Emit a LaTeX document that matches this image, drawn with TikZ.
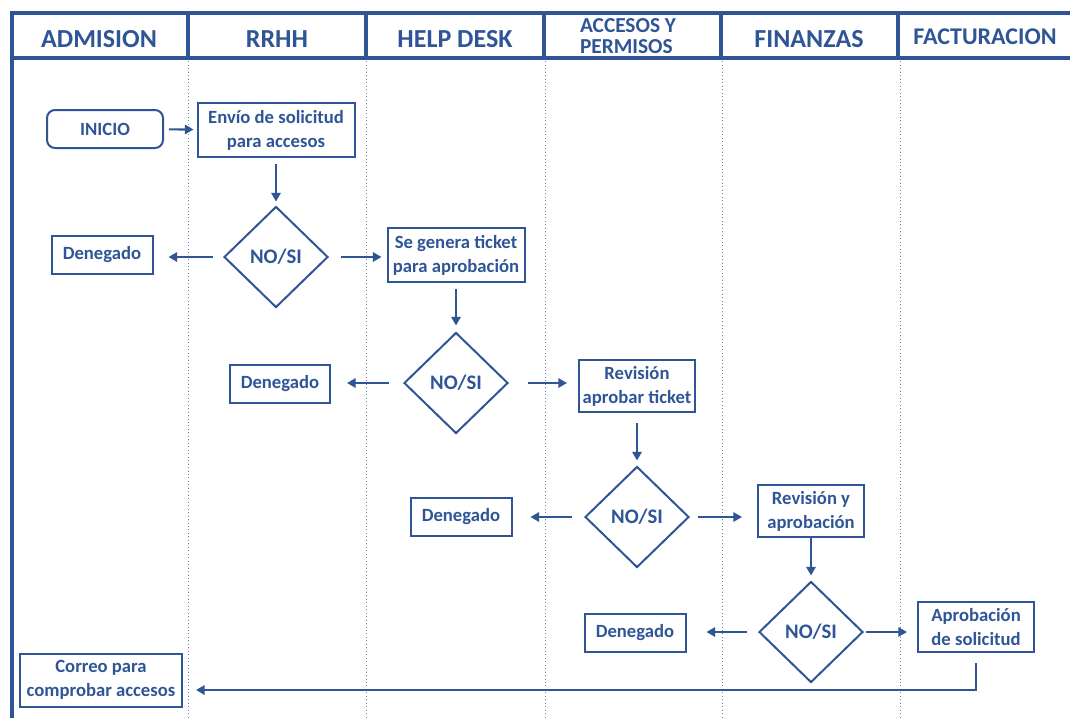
\documentclass[tikz,border=0pt]{standalone}
\usepackage{fontspec}
\setmainfont{Carlito}
\usetikzlibrary{shapes.geometric,arrows.meta}
\definecolor{fb}{HTML}{2F5597}
\begin{document}
\begin{tikzpicture}[x=0.75pt,y=-0.75pt,
  every node/.style={text=fb, font=\bfseries\fontsize{14}{18}\selectfont, align=center},
  box/.style 2 args={draw=fb, line width=1.5pt, minimum width=#1*0.75pt, minimum height=#2*0.75pt, inner sep=0pt},
  dec/.style={diamond, draw=fb, line width=1.5pt, minimum width=104*0.75pt, minimum height=101*0.75pt, inner sep=0pt, font=\bfseries\fontsize{15.5}{18}\selectfont},
  arr/.style 2 args={draw=fb, line width=1.6pt, -{Triangle[length=6.5pt,width=7pt]}, shorten <=#1*0.75pt, shorten >=#2*0.75pt},
  head/.style={font=\bfseries\fontsize{19.5}{22}\selectfont},
  lane/.style={draw=fb!75, line width=0.6pt, dotted},
  frame/.style={draw=fb, line width=2.4pt}]
\useasboundingbox[fill=white] (0,0) rectangle (1070,718);

% lanes
\foreach \x in {188,366,545,722,900} \draw[lane] (\x,58) -- (\x,718);
% frame
\draw[frame] (12,718) -- (12,13) -- (1070,13);
\draw[frame] (12,58) -- (1070,58);
\foreach \x in {188,366,544,721,898} \draw[frame] (\x,13) -- (\x,58);

% headers
\node[head] (h1) at (99,39) {ADMISION};
\node[head] (h2) at (277,39) {RRHH};
\node[head] (h3) at (455,39) {HELP DESK};
\node[head, align=left, font=\bfseries\fontsize{16}{16}\selectfont] (h4) at (628,36) {ACCESOS Y\\PERMISOS};
\node[head] (h5) at (809,39) {FINANZAS};
\node[head, font=\bfseries\fontsize{18}{20}\selectfont] (h6) at (985,37) {FACTURACION};

% nodes
\node[box={116}{38}, rounded corners=6pt] (inicio) at (105,129) {INICIO};
\node[box={157}{54}] (envio) at (276,130) {Envío de solicitud\\para accesos};
\node[dec] (d1) at (276,257) {NO/SI};
\node[box={101}{38}] (den1) at (102,255) {Denegado};
\node[box={137}{54}] (tick) at (456,255) {Se genera ticket\\para aprobación};
\node[dec] (d2) at (456,383) {NO/SI};
\node[box={100}{38}] (den2) at (280,384) {Denegado};
\node[box={116}{52}] (rev) at (637,386) {Revisión\\aprobar ticket};
\node[dec] (d3) at (637,517) {NO/SI};
\node[box={101}{38}] (den3) at (461,517) {Denegado};
\node[box={106}{52}] (revy) at (811,511) {Revisión y\\aprobación};
\node[dec] (d4) at (811,632) {NO/SI};
\node[box={101}{38}] (den4) at (635,633) {Denegado};
\node[box={116}{50}] (aprob) at (976,627) {Aprobación\\de solicitud};
\node[box={162}{53}] (correo) at (101,680) {Correo para\\comprobar accesos};

% connectors
\draw[arr={5}{3}] (inicio) -- (envio);
\draw[arr={6}{4}] (envio) -- (d1);
\draw[arr={10}{15}] (d1) -- (den1.east |- d1);
\draw[arr={12}{5}] (d1) -- (tick.west |- d1);
\draw[arr={6}{6}] (tick) -- (d2);
\draw[arr={14}{16}] (d2) -- (den2.east |- d2);
\draw[arr={19}{11}] (d2) -- (rev.west |- d2);
\draw[arr={10}{5}] (rev) -- (d3);
\draw[arr={12}{18}] (d3) -- (den3);
\draw[arr={8}{15}] (d3.east) -- (revy.west |- d3);
\draw[arr={0}{5}] (revy) -- (d4);
\draw[arr={11}{20}] (d4) -- (den4.east |- d4);
\draw[arr={2}{10}] (d4) -- (aprob.west |- d4);
\coordinate (bend) at (976,690);
\draw[arr={10}{13}] (aprob.south) |- (correo.east |- bend);
\end{tikzpicture}
\end{document}
